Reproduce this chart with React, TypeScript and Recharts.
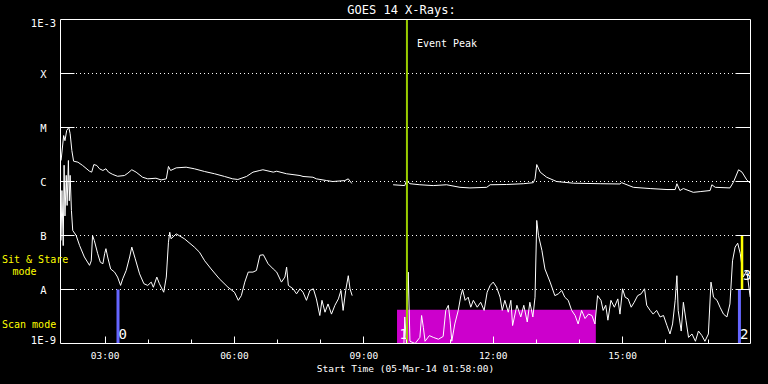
import React from "react";
import { LineChart, Line, XAxis, YAxis, ReferenceLine, ReferenceArea } from "recharts";

// time axis in decimal hours, 05-Mar-14 01:58 -> 17:58
const START = 1 + 58 / 60;
const END = START + 16;

const levels = [1e-9, 1e-8, 1e-7, 1e-6, 1e-5, 1e-4, 1e-3];
const levelLabels = ["1E-9", "A", "B", "C", "M", "X", "1E-3"];
const gridLevels = [1e-8, 1e-7, 1e-6, 1e-5, 1e-4];
const hourTicks = [3, 4, 5, 6, 7, 8, 9, 10, 11, 12, 13, 14, 15, 16, 17];

// long channel (1-8 A), null marks the data gap
const longT = [
  1.98, 2.04, 2.07, 2.11, 2.16, 2.19, 2.23, 2.27, 2.37, 2.48, 2.64, 2.69, 2.74, 2.81, 2.87, 2.95,
  3.02, 3.08, 3.18, 3.29, 3.45, 3.53, 3.62, 3.72, 3.87, 3.99, 4.18, 4.3, 4.42, 4.47, 4.52, 4.65,
  4.88, 5.07, 5.31, 5.54, 5.77, 5.96, 6.08, 6.28, 6.43, 6.59, 6.66, 6.9, 6.98, 7.21, 7.52, 7.59,
  7.82, 7.9, 8.14, 8.28, 8.56, 8.64, 8.72, 9.2,
  9.68, 9.95, 9.99, 10.07, 10.3, 10.61, 10.92, 11.23, 11.46, 11.85, 11.93, 12.31, 12.7, 12.93,
  12.97, 13.01, 13.09, 13.24, 13.47, 13.86, 14.48, 14.94, 14.98, 15.25, 15.64, 16.03, 16.22,
  16.26, 16.33, 16.41, 16.64, 16.8, 17.03, 17.07, 17.15, 17.49, 17.57, 17.69, 17.77, 17.88, 17.96,
];
const longF = [
  2.45e-6, 7.1e-6, 5.7e-6, 8.8e-6, 1.0e-5, 7.7e-6, 3.75e-6, 2.38e-6, 2.28e-6, 1.98e-6, 1.55e-6,
  1.49e-6, 2.06e-6, 1.98e-6, 1.72e-6, 1.6e-6, 1.72e-6, 1.49e-6, 1.35e-6, 1.25e-6, 1.29e-6, 1.43e-6,
  1.65e-6, 1.49e-6, 1.2e-6, 1.12e-6, 1.15e-6, 1.07e-6, 1.12e-6, 1.9e-6, 1.6e-6, 1.79e-6, 1.84e-6,
  1.72e-6, 1.53e-6, 1.39e-6, 1.24e-6, 1.12e-6, 1.09e-6, 1.24e-6, 1.49e-6, 1.6e-6, 1.65e-6, 1.49e-6,
  1.55e-6, 1.39e-6, 1.29e-6, 1.24e-6, 1.2e-6, 1.12e-6, 1.04e-6, 1.0e-6, 1.04e-6, 1.12e-6, 9.2e-7,
  null,
  8.7e-7, 8.4e-7, 1.04e-6, 9.1e-7, 8.7e-7, 8.4e-7, 8.7e-7, 7.8e-7, 7.6e-7, 7.8e-7, 8.7e-7, 8.8e-7,
  9.1e-7, 9.5e-7, 1.12e-6, 2.06e-6, 1.49e-6, 1.2e-6, 1.0e-6, 9.3e-7, 9.1e-7, 9.0e-7, 9.5e-7, 7.8e-7,
  7.4e-7, 7.1e-7, 7.1e-7, 9.1e-7, 6.8e-7, 7.4e-7, 6.3e-7, 6.5e-7, 6.8e-7, 8.7e-7, 7.8e-7, 7.6e-7,
  9.7e-7, 1.65e-6, 1.49e-6, 1.07e-6, 9.3e-7,
];

// short channel (0.5-4 A)
const shortT = [
  1.98, 2.0, 2.03, 2.05, 2.07, 2.1, 2.12, 2.15, 2.17, 2.19, 2.22, 2.25, 2.33, 2.41, 2.52, 2.64,
  2.68, 2.71, 2.75, 2.83, 2.89, 2.95, 2.99, 3.02, 3.06, 3.13, 3.22, 3.29, 3.36, 3.41, 3.49, 3.57,
  3.62, 3.7, 3.8, 3.9, 3.99, 4.07, 4.12, 4.2, 4.26, 4.36, 4.42, 4.47, 4.5, 4.53, 4.65, 4.84, 5.07,
  5.19, 5.31, 5.46, 5.65, 5.85, 6.0, 6.09, 6.16, 6.24, 6.32, 6.43, 6.51, 6.59, 6.67, 6.78, 6.9,
  6.98, 7.09, 7.17, 7.21, 7.25, 7.36, 7.44, 7.52, 7.59, 7.67, 7.75, 7.83, 7.9, 7.98, 8.03, 8.1,
  8.17, 8.25, 8.33, 8.41, 8.47, 8.52, 8.58, 8.64, 8.68, 8.73, 9.2,
  9.93, 9.95, 9.99, 10.03, 10.07, 10.19, 10.3, 10.34, 10.38, 10.42, 10.52, 10.61, 10.73, 10.84,
  10.9, 10.96, 11.0, 11.04, 11.11, 11.19, 11.25, 11.29, 11.35, 11.42, 11.48, 11.54, 11.63, 11.71,
  11.79, 11.86, 11.93, 12.0, 12.08, 12.16, 12.21, 12.27, 12.35, 12.41, 12.45, 12.55, 12.64, 12.71,
  12.79, 12.85, 12.92, 12.97, 13.01, 13.05, 13.13, 13.2, 13.32, 13.43, 13.51, 13.59, 13.66, 13.74,
  13.82, 13.9, 13.97, 14.05, 14.13, 14.21, 14.29, 14.36, 14.42, 14.5, 14.55, 14.61, 14.66, 14.73,
  14.81, 14.89, 14.94, 15.0, 15.06, 15.13, 15.2, 15.27, 15.35, 15.43, 15.51, 15.56, 15.64, 15.71,
  15.79, 15.87, 15.95, 16.03, 16.1, 16.16, 16.22, 16.26, 16.29, 16.36, 16.41, 16.47, 16.53, 16.61,
  16.69, 16.76, 16.84, 16.91, 16.99, 17.05, 17.11, 17.19, 17.26, 17.34, 17.42, 17.49, 17.55, 17.61,
  17.67, 17.73, 17.8, 17.88, 17.96,
];
const shortF = [
  8.1e-8, 6.8e-7, 6.5e-8, 2.0e-6, 2.3e-7, 1.3e-6, 3.6e-7, 2.45e-6, 4.4e-7, 1.3e-6, 2.9e-7, 1.24e-7,
  1.0e-7, 6.5e-8, 4.0e-8, 2.8e-8, 3.4e-8, 1.0e-7, 8.1e-8, 4.6e-8, 3.2e-8, 3.0e-8, 4.6e-8, 5.7e-8,
  4.0e-8, 2.4e-8, 2.1e-8, 1.7e-8, 1.19e-8, 1.58e-8, 2.25e-8, 4.0e-8, 6.1e-8, 3.7e-8, 1.95e-8,
  1.28e-8, 1.19e-8, 1.37e-8, 1.1e-8, 1.7e-8, 1.28e-8, 8.9e-9, 1.7e-8, 7.5e-8, 1.15e-7, 8.7e-8,
  1.07e-7, 8.7e-8, 6.1e-8, 4.9e-8, 3.4e-8, 2.4e-8, 1.58e-8, 1.1e-8, 8.9e-9, 6.3e-9, 7.7e-9, 1.37e-8,
  2.1e-8, 2.1e-8, 2.25e-8, 4.3e-8, 4.4e-8, 3.0e-8, 2.4e-8, 2.1e-8, 1.37e-8, 1.7e-8, 2.6e-8, 1.19e-8,
  1.03e-8, 8.3e-9, 1.03e-8, 8.9e-9, 6.3e-9, 9.6e-9, 1.03e-8, 6.7e-9, 3.3e-9, 6.3e-9, 3.8e-9, 5.4e-9,
  3.5e-9, 5.1e-9, 6.7e-9, 9.6e-9, 4.1e-9, 9.6e-9, 1.8e-8, 1.03e-8, 7.7e-9,
  null,
  1e-9, 3.1e-9, 1e-9, 2.1e-8, 1.1e-9, 1e-9, 1.3e-9, 3.3e-9, 2.0e-9, 1.1e-9, 1.4e-9, 1.3e-9, 1.2e-9,
  1.35e-9, 4.1e-9, 5.1e-9, 2.7e-9, 1.1e-9, 2.3e-9, 4.1e-9, 7.7e-9, 1.0e-8, 6.3e-9, 7.2e-9, 4.7e-9,
  6.3e-9, 4.7e-9, 5.8e-9, 4.1e-9, 8.9e-9, 1.19e-8, 1.37e-8, 1.1e-8, 7.2e-9, 4.1e-9, 6.3e-9, 3.8e-9,
  6.3e-9, 2.15e-9, 5.1e-9, 3.1e-9, 5.1e-9, 2.5e-9, 5.8e-9, 3.1e-9, 7.2e-9, 1.9e-7, 1.0e-7, 5.3e-8,
  2.4e-8, 1.37e-8, 7.7e-9, 8.3e-9, 9.6e-9, 7.2e-9, 6.3e-9, 4.1e-9, 3.3e-9, 2.3e-9, 4.1e-9, 2.9e-9,
  3.5e-9, 3.3e-9, 2.3e-9, 7.7e-9, 6.3e-9, 4.1e-9, 5.1e-9, 2.7e-9, 6.3e-9, 4.7e-9, 6.7e-9, 3.5e-9,
  1.03e-8, 7.2e-9, 6.7e-9, 4.7e-9, 5.8e-9, 7.7e-9, 8.3e-9, 1.03e-8, 5.1e-9, 4.1e-9, 3.5e-9, 4.1e-9,
  3.1e-9, 3.3e-9, 2.15e-9, 1.5e-9, 2.3e-9, 6.3e-9, 1.8e-8, 4.1e-9, 1.7e-9, 5.8e-9, 2.7e-9, 1.3e-9,
  1.5e-9, 1.1e-9, 1.7e-9, 1.4e-9, 1.1e-9, 1.5e-9, 1.37e-8, 7.2e-9, 6.3e-9, 4.7e-9, 3.5e-9, 3.1e-9,
  5.4e-9, 3.4e-8, 6.1e-8, 7.2e-8, 4.6e-8, 1.7e-8, 2.25e-8, 7.2e-9,
];

// event / instrument mode markers
const eventPeakTime = 10.0;
const scanStart = 9.77;
const scanEnd = 14.38;
const scanTop = 4.2e-9;
const scanLabel = "1";
const blueTimes = [3.3, 17.71];
const blueLabels = ["0", "2"];
const stareTime = 17.77;
const stareLabel = "3";

const longData = longT.map((t, i) => ({ t, f: longF[i] }));
const shortData = shortT.map((t, i) => ({ t, f: shortF[i] }));

const FONT = "'DejaVu Sans Mono', monospace";
const pad = (h: number) => (h < 10 ? "0" + h : "" + h);
const crisp = (v: number) => Math.round(v - 0.5) + 0.5;
const levelIndex = (v: number) => Math.round(Math.log10(v)) + 9;

function LeftTick({ x, y, payload }: any) {
  const i = levelIndex(payload.value);
  const inner = i > 0 && i < levels.length - 1;
  const dy = i === 0 ? -3.5 : i === levels.length - 1 ? 3.5 : 0;
  return (
    <g>
      {inner && <line x1={x} x2={x + 14} y1={y} y2={y} stroke="#fff" />}
      <text x={x - 17} y={y + dy + 4} textAnchor="middle" fill="#fff" fontSize={10.5} fontFamily={FONT}>
        {levelLabels[i]}
      </text>
    </g>
  );
}

function RightTick({ x, y, payload }: any) {
  const i = levelIndex(payload.value);
  if (i <= 0 || i >= levels.length - 1) return <g />;
  return <line x1={x - 15} x2={x} y1={y} y2={y} stroke="#fff" />;
}

function BottomTick({ x, y, payload }: any) {
  const h = payload.value;
  const major = h % 3 === 0;
  const cx = crisp(x);
  return (
    <g>
      <line x1={cx} x2={cx} y1={y} y2={y - (major ? 7 : 4)} stroke="#fff" />
      {major && (
        <text x={x} y={y + 15.5} textAnchor="middle" fill="#fff" fontSize={9.5} fontFamily={FONT}>
          {pad(h) + ":00"}
        </text>
      )}
    </g>
  );
}

function TopTick({ x, y, payload }: any) {
  const major = payload.value % 3 === 0;
  const cx = crisp(x);
  return <line x1={cx} x2={cx} y1={y} y2={y + (major ? 6 : 4)} stroke="#fff" />;
}

export default function App() {
  return (
    <div style={{ position: "fixed", left: 0, top: 0, width: 768, height: 384, background: "#000" }}>
      <LineChart width={768} height={384} margin={{ top: 0, right: 0, bottom: 0, left: 0 }}>
        <XAxis
          xAxisId="bottom"
          type="number"
          dataKey="t"
          domain={[START, END]}
          allowDataOverflow
          ticks={hourTicks}
          interval={0}
          height={40.5}
          tickSize={0}
          tickMargin={0}
          tickLine={false}
          axisLine={{ stroke: "#fff" }}
          tick={<BottomTick />}
          label={(p: any) => (
            <text
              x={p.viewBox.x + p.viewBox.width / 2}
              y={p.viewBox.y + 28.5}
              textAnchor="middle"
              fill="#fff"
              fontSize={9.5}
              fontFamily={FONT}
            >
              Start Time (05-Mar-14 01:58:00)
            </text>
          )}
        />
        <XAxis
          xAxisId="top"
          orientation="top"
          type="number"
          domain={[START, END]}
          allowDataOverflow
          ticks={hourTicks}
          interval={0}
          height={19.5}
          tickSize={0}
          tickMargin={0}
          tickLine={false}
          axisLine={{ stroke: "#fff" }}
          tick={<TopTick />}
          label={(p: any) => (
            <text
              x={p.viewBox.x + p.viewBox.width / 2 - 4}
              y={14}
              textAnchor="middle"
              fill="#fff"
              fontSize={12}
              fontFamily={FONT}
            >
              GOES 14 X-Rays:
            </text>
          )}
        />
        <YAxis
          yAxisId="left"
          scale="log"
          domain={[1e-9, 1e-3]}
          allowDataOverflow
          ticks={levels}
          interval={0}
          width={60.5}
          tickSize={0}
          tickMargin={0}
          tickLine={false}
          axisLine={{ stroke: "#fff" }}
          tick={<LeftTick />}
          label={(p: any) => {
            const top = p.viewBox.y;
            return (
              <g fill="#ffff00" fontSize={10} fontFamily={FONT}>
                <text x={2} y={top + 243.5}>Sit &amp; Stare</text>
                <text x={24.5} y={top + 255.5} textAnchor="middle">mode</text>
                <text x={2} y={top + 308.5}>Scan mode</text>
              </g>
            );
          }}
        />
        <YAxis
          yAxisId="right"
          orientation="right"
          scale="log"
          domain={[1e-9, 1e-3]}
          allowDataOverflow
          ticks={levels}
          interval={0}
          width={17.5}
          tickSize={0}
          tickMargin={0}
          tickLine={false}
          axisLine={{ stroke: "#fff" }}
          tick={<RightTick />}
        />

        {gridLevels.map((lv) => (
          <ReferenceLine
            key={lv}
            xAxisId="bottom"
            yAxisId="left"
            y={lv}
            stroke="#fff"
            strokeDasharray="1 3"
            strokeDashoffset={0.5}
          />
        ))}

        <ReferenceArea
          xAxisId="bottom"
          yAxisId="left"
          x1={scanStart}
          x2={scanEnd}
          y1={1e-9}
          y2={scanTop}
          fill="#cc00cc"
          fillOpacity={1}
          stroke="none"
          label={(p: any) => (
            <text x={p.viewBox.x + 2.5} y={p.viewBox.y + p.viewBox.height - 5} fill="#fff" fontSize={14} fontFamily={FONT}>
              {scanLabel}
            </text>
          )}
        />

        <Line
          xAxisId="bottom"
          yAxisId="left"
          data={longData}
          dataKey="f"
          type="linear"
          stroke="#fff"
          strokeWidth={1}
          dot={false}
          activeDot={false}
          isAnimationActive={false}
        />
        <Line
          xAxisId="bottom"
          yAxisId="left"
          data={shortData}
          dataKey="f"
          type="linear"
          stroke="#fff"
          strokeWidth={1}
          dot={false}
          activeDot={false}
          isAnimationActive={false}
        />

        {blueTimes.map((t, i) => (
          <ReferenceLine
            key={t}
            xAxisId="bottom"
            yAxisId="left"
            segment={[
              { x: t, y: 1e-9 },
              { x: t, y: 1e-8 },
            ]}
            stroke="#6666ff"
            strokeWidth={3}
            label={(p: any) => (
              <text x={p.viewBox.x + 0.5} y={p.viewBox.y + p.viewBox.height - 5} fill="#fff" fontSize={14} fontFamily={FONT}>
                {blueLabels[i]}
              </text>
            )}
          />
        ))}
        <ReferenceLine
          xAxisId="bottom"
          yAxisId="left"
          segment={[
            { x: stareTime, y: 1e-8 },
            { x: stareTime, y: 1e-7 },
          ]}
          stroke="#ffff00"
          strokeWidth={2.5}
          label={(p: any) => (
            <text x={p.viewBox.x + 1} y={p.viewBox.y + 44} fill="#fff" fontSize={14} fontFamily={FONT}>
              {stareLabel}
            </text>
          )}
        />
        <ReferenceLine
          xAxisId="bottom"
          yAxisId="left"
          x={eventPeakTime}
          stroke="#99cc00"
          strokeWidth={2}
          label={(p: any) => (
            <text x={p.viewBox.x + 10} y={p.viewBox.y + 27} fill="#fff" fontSize={10} fontFamily={FONT}>
              Event Peak
            </text>
          )}
        />
      </LineChart>
    </div>
  );
}
